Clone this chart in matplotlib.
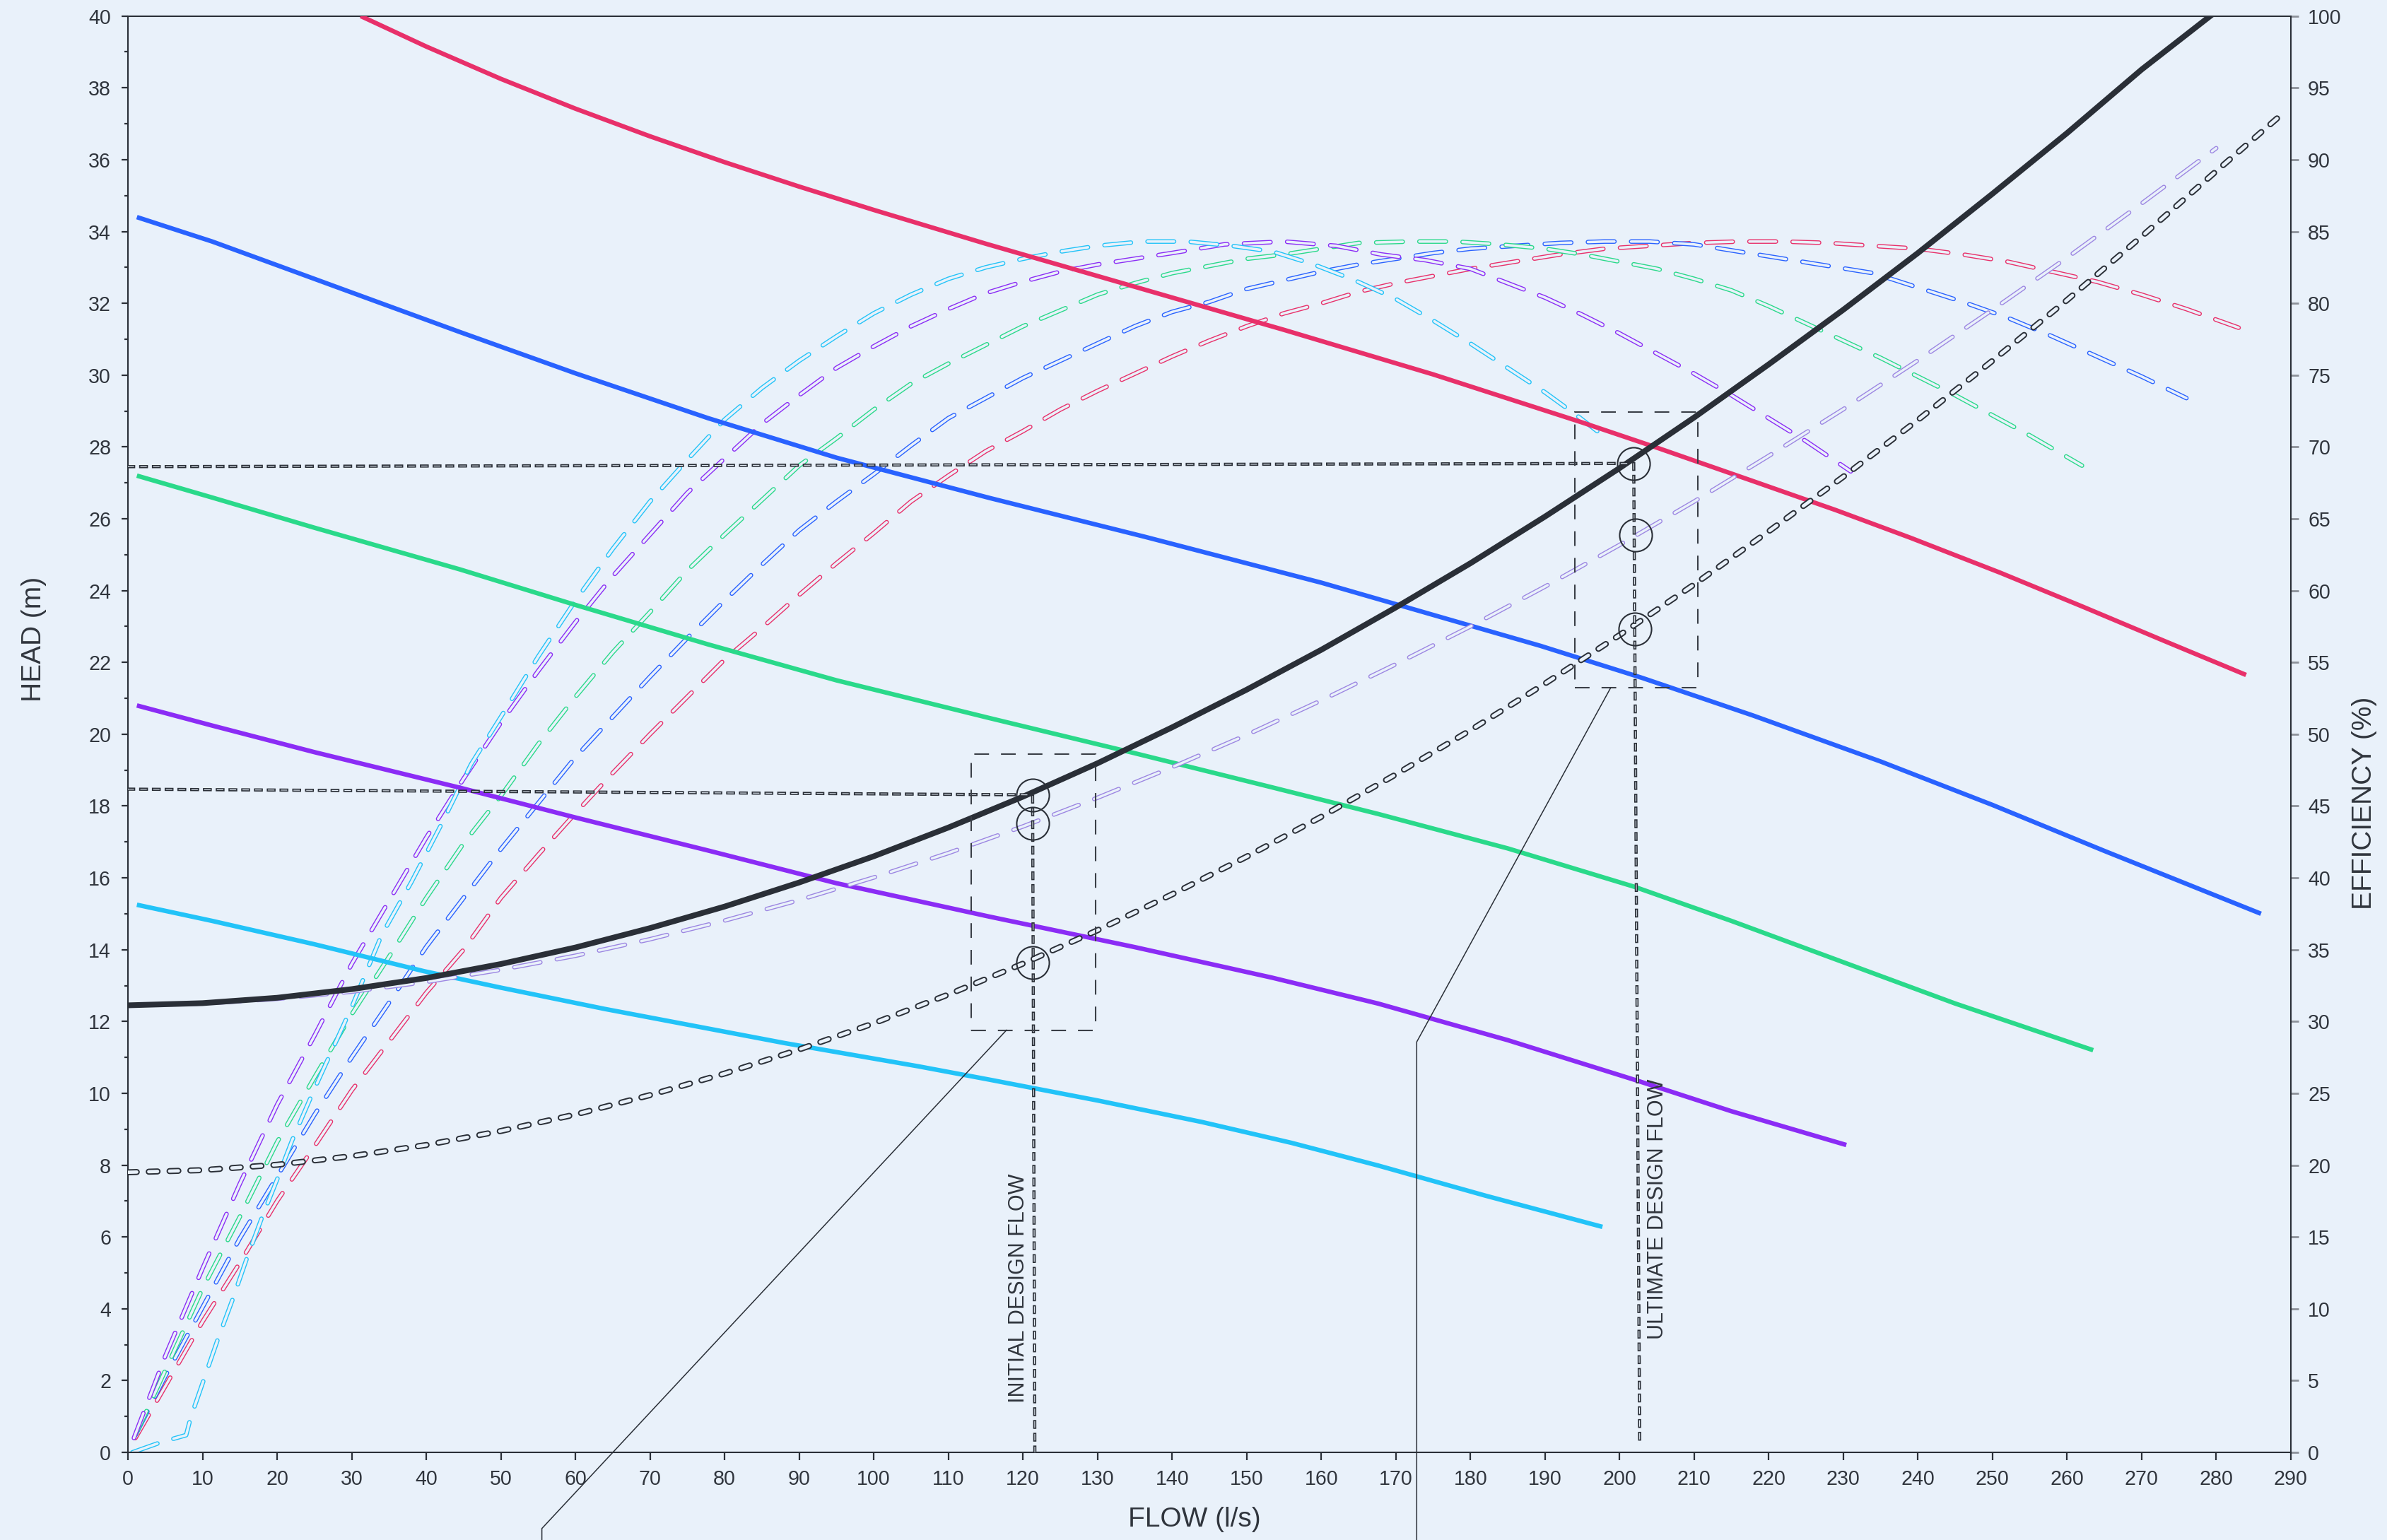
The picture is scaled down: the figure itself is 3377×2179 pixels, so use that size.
import matplotlib
matplotlib.use('Agg')
import matplotlib.pyplot as plt
import matplotlib.patheffects as pe
from matplotlib.patches import Rectangle
from matplotlib.ticker import MultipleLocator

plt.rcParams['font.family'] = ['Liberation Sans', 'DejaVu Sans']
plt.rcParams['lines.scale_dashes'] = False

BG = '#E9F1FA'
DARK = '#2A2F37'
TXT = '#30353D'
RED = '#E8306A'
BLUE = '#2962FF'
GREEN = '#2AD98A'
PURPLE = '#8B2CF5'
CYAN = '#22C3F8'
LAV = '#9C86E2'

# pump head curves (flow l/s, head m)
red_q = [31.2, 40, 50, 60, 70, 80, 90, 100, 115, 135, 155, 175, 195, 205, 218, 229, 239, 251, 262, 273, 284]
red_h = [40.0, 39.15, 38.25, 37.42, 36.65, 35.93, 35.25, 34.6, 33.66, 32.46, 31.26, 30.02, 28.68, 27.98, 27.04, 26.24, 25.47, 24.5, 23.56, 22.6, 21.65]
blue_q = [1.2, 11.3, 20, 30, 44.5, 60, 77.8, 95, 115.5, 136.3, 160, 189.4, 203, 217.9, 235, 250, 265, 286]
blue_h = [34.4, 33.72, 33.06, 32.3, 31.2, 30.05, 28.8, 27.7, 26.58, 25.5, 24.22, 22.46, 21.57, 20.52, 19.24, 18.03, 16.75, 15.0]
green_q = [1.2, 11.3, 25, 44.5, 60, 77.8, 95, 115.5, 135, 153.4, 167.6, 185, 202, 215, 230, 245, 263.5]
green_h = [27.2, 26.59, 25.75, 24.59, 23.6, 22.5, 21.5, 20.45, 19.47, 18.52, 17.78, 16.82, 15.75, 14.8, 13.65, 12.5, 11.2]
purple_q = [1.2, 11.3, 25, 44.5, 60, 77.8, 95, 115.5, 135, 153.4, 167.6, 185, 202.4, 215, 230.4]
purple_h = [20.8, 20.24, 19.5, 18.51, 17.68, 16.76, 15.85, 14.92, 14.07, 13.22, 12.5, 11.48, 10.35, 9.5, 8.56]
cyan_q = [1.2, 11.3, 25, 39.7, 49.8, 63.9, 88, 106, 115.5, 130, 144, 156, 167.6, 182, 197.7]
cyan_h = [15.25, 14.8, 14.15, 13.4, 12.95, 12.35, 11.4, 10.75, 10.38, 9.8, 9.2, 8.62, 7.99, 7.15, 6.28]

# system curves
sys_q = [0, 10, 20, 30, 40, 50, 60, 70, 80, 90, 100, 110, 120, 130, 140, 150, 160, 170, 180, 190, 200, 210, 220, 230, 240, 250, 260, 270, 279.2]
sys_h = [12.45, 12.51, 12.66, 12.90, 13.21, 13.60, 14.06, 14.60, 15.20, 15.87, 16.60, 17.40, 18.26, 19.19, 20.19, 21.24, 22.35, 23.53, 24.76, 26.06, 27.41, 28.82, 30.30, 31.82, 33.40, 35.05, 36.74, 38.51, 40.0]
lav_q = [0, 10, 20, 30, 40, 50, 60, 70, 80, 90, 100, 110, 120, 130, 140, 150, 160, 170, 180, 190, 200, 210, 220, 230, 240, 250, 260, 270, 280]
lav_h = [12.45, 12.50, 12.63, 12.83, 13.10, 13.44, 13.83, 14.29, 14.81, 15.38, 16.01, 16.69, 17.43, 18.23, 19.08, 19.98, 20.94, 21.95, 23.0, 24.11, 25.27, 26.48, 27.75, 29.05, 30.41, 31.82, 33.27, 34.78, 36.32]
low_q = [0, 10, 20, 30, 40, 50, 60, 70, 80, 90, 100, 110, 120, 130, 140, 150, 160, 170, 180, 190, 200, 210, 220, 230, 240, 250, 260, 270, 280, 289]
low_h = [7.8, 7.86, 8.01, 8.25, 8.56, 8.95, 9.41, 9.95, 10.55, 11.22, 11.95, 12.75, 13.61, 14.54, 15.54, 16.59, 17.70, 18.88, 20.11, 21.41, 22.76, 24.17, 25.65, 27.17, 28.75, 30.4, 32.09, 33.86, 35.68, 37.3]

# efficiency curves (flow l/s, %)
cyan_eq = [0.6, 4.4, 7.8, 8.4, 10, 12, 14, 16, 18, 20, 22, 25, 30, 34, 38, 42, 46, 50, 55, 60, 65, 70, 75, 80, 85, 90, 95, 100, 105, 110, 115, 120, 125, 130, 136, 142, 148, 153.5, 159, 164.5, 170, 175, 180, 185, 190, 194.5, 197]
cyan_e = [0, 0.7, 1.2, 2.4, 4.8, 7.8, 10.6, 13.6, 16.4, 19.0, 21.7, 25.3, 31.0, 36.0, 39.7, 43.7, 47.9, 51.2, 55.4, 59.3, 62.9, 66.2, 69.1, 71.9, 74.1, 76.0, 77.7, 79.3, 80.6, 81.7, 82.5, 83.1, 83.6, 84.0, 84.3, 84.3, 84.0, 83.6, 82.7, 81.6, 80.3, 78.8, 77.2, 75.5, 73.8, 72.1, 71.1]
purple_eq = [0.8, 5, 10, 15, 20, 25, 30, 35, 40, 45, 50, 55, 60, 65, 70, 75, 80, 85, 90, 95, 100, 105, 110, 115, 120, 125, 130, 135, 140, 147, 155, 162, 168, 174, 180, 185, 190, 195, 200, 205, 210, 215, 220, 225, 231]
purple_e = [1.0, 6.7, 12.8, 18.7, 24.2, 29.0, 34.0, 38.4, 42.8, 46.9, 50.8, 54.4, 57.8, 61.0, 63.9, 66.8, 69.2, 71.6, 73.6, 75.5, 77.0, 78.4, 79.6, 80.7, 81.5, 82.2, 82.7, 83.1, 83.5, 84.1, 84.3, 84.0, 83.4, 83.0, 82.4, 81.4, 80.4, 79.2, 77.9, 76.5, 75.1, 73.6, 72.0, 70.4, 68.3]
green_eq = [1, 5, 10, 15, 20, 25, 30, 35, 40, 45, 50, 55, 60, 65, 70, 75, 80, 85, 90, 95, 100, 105, 110, 115, 120, 125, 130, 135, 140, 145, 150, 155, 160, 165, 172, 178, 184, 190, 195, 200, 205, 210, 215, 220, 225, 230, 235, 240, 245, 250, 255, 262]
green_e = [1.2, 5.7, 11.4, 16.4, 21.6, 26.1, 30.5, 34.5, 38.6, 42.4, 45.7, 49.3, 52.6, 55.7, 58.5, 61.4, 63.9, 66.3, 68.7, 70.6, 72.6, 74.4, 75.8, 77.1, 78.4, 79.5, 80.6, 81.4, 82.1, 82.6, 83.1, 83.4, 83.8, 84.2, 84.3, 84.3, 84.1, 83.8, 83.4, 82.9, 82.4, 81.7, 80.9, 79.8, 78.6, 77.4, 76.2, 74.9, 73.6, 72.2, 70.8, 68.7]
blue_eq = [1, 5, 10, 15, 20, 25, 30, 35, 40, 45, 50, 55, 60, 65, 70, 75, 80, 85, 90, 95, 100, 105, 110, 115, 120, 125, 130, 135, 140, 145, 150, 155, 160, 165, 170, 175, 180, 186, 192, 198, 204, 210, 216, 222, 228, 234, 240, 246, 252, 258, 264, 270, 276]
blue_e = [1.2, 5.3, 10.1, 14.9, 19.2, 23.5, 27.5, 31.3, 35.2, 38.6, 42.0, 45.2, 48.4, 51.2, 54.0, 56.7, 59.3, 61.8, 64.2, 66.2, 68.1, 70.1, 72.0, 73.4, 74.8, 76.0, 77.2, 78.4, 79.4, 80.1, 81.0, 81.6, 82.2, 82.7, 83.1, 83.5, 83.8, 84.0, 84.2, 84.3, 84.3, 84.1, 83.6, 83.1, 82.6, 82.1, 81.1, 80.1, 79.0, 77.7, 76.3, 74.9, 73.4]
red_eq = [1, 5, 10, 15, 20, 25, 30, 35, 40, 45, 50, 55, 60, 65, 70, 75, 80, 85, 90, 95, 100, 105, 110, 115, 120, 125, 130, 135, 140, 145, 150, 155, 160, 165, 170, 175, 180, 186, 192, 198, 204, 210, 216, 222, 228, 234, 240, 246, 252, 258, 264, 270, 276, 283]
red_e = [1.0, 4.6, 9.1, 13.2, 17.5, 21.3, 25.2, 28.6, 32.0, 35.0, 38.6, 41.6, 44.5, 47.3, 50.0, 52.6, 55.2, 57.4, 59.7, 61.9, 64.0, 66.2, 68.0, 69.7, 71.1, 72.6, 73.9, 75.1, 76.3, 77.4, 78.4, 79.3, 80.0, 80.8, 81.4, 81.9, 82.4, 82.9, 83.4, 83.8, 84.0, 84.2, 84.3, 84.3, 84.2, 84.0, 83.8, 83.4, 82.9, 82.2, 81.5, 80.6, 79.6, 78.3]

# design points
init_line_q = [0, 121.3, 121.6]
init_line_h = [18.47, 18.31, 0]
ult_line_q = [0, 201.9, 202.7]
ult_line_h = [27.45, 27.54, 0.2]
init_pts_q = [121.3, 121.3, 121.3]
init_pts_h = [18.31, 17.52, 13.64]
ult_pts_q = [201.9, 202.2, 202.1]
ult_pts_h = [27.54, 25.55, 22.93]
init_box = (113.1, 11.76, 16.6, 7.68)
ult_box = (194.0, 21.29, 16.5, 7.69)
init_lead_q = [117.8, 55.5, 55.5]
init_lead_h = [11.76, -2.12, -2.7]
ult_lead_q = [198.8, 172.8, 172.8]
ult_lead_h = [21.29, 11.43, -2.7]


def hollow(axis, x, y, color, outer, inner, dashes, z, cap='round'):
    # dashed line drawn as an outline: coloured stroke with a background-coloured core
    axis.plot(x, y, color=BG, lw=inner, dashes=dashes, dash_capstyle=cap, zorder=z,
              path_effects=[pe.Stroke(linewidth=outer, foreground=color), pe.Normal()])


fig = plt.figure(figsize=(16.885, 10.895), dpi=200, facecolor=BG)
ax = fig.add_axes([0.0536, 0.0569, 0.9061, 0.9327])
ax2 = ax.twinx()
ax.set_zorder(ax2.get_zorder() + 1)
ax.patch.set_visible(False)
ax2.set_facecolor(BG)

# efficiency curves (under everything else)
eff_dash = (13.5, 8.5)
for q, e, c in [(red_eq, red_e, RED), (blue_eq, blue_e, BLUE), (green_eq, green_e, GREEN),
                (purple_eq, purple_e, PURPLE), (cyan_eq, cyan_e, CYAN)]:
    hollow(ax2, q, e, c, 2.3, 1.3, eff_dash, 2)

# pump curves
for q, h, c in [(red_q, red_h, RED), (blue_q, blue_h, BLUE), (green_q, green_h, GREEN),
                (purple_q, purple_h, PURPLE), (cyan_q, cyan_h, CYAN)]:
    ax.plot(q, h, color=c, lw=2.3, zorder=3, solid_capstyle='butt', solid_joinstyle='round')

# system curves
hollow(ax, lav_q, lav_h, LAV, 2.25, 1.25, eff_dash, 4)
hollow(ax, low_q, low_h, DARK, 3.1, 1.7, (4.5, 6.1), 4)
ax.plot(sys_q, sys_h, color=DARK, lw=2.9, zorder=5, solid_joinstyle='round')

# design flow markers
hollow(ax, init_line_q, init_line_h, DARK, 1.6, 0.4, (2.9, 3.6), 6, cap='projecting')
hollow(ax, ult_line_q, ult_line_h, DARK, 1.6, 0.4, (2.9, 3.6), 6, cap='projecting')
ax.plot(init_pts_q, init_pts_h, 'o', mfc='none', mec=DARK, ms=16.6, mew=0.75, zorder=7)
ax.plot(ult_pts_q, ult_pts_h, 'o', mfc='none', mec=DARK, ms=16.6, mew=0.75, zorder=7)
for b in (init_box, ult_box):
    ax.add_patch(Rectangle(b[:2], b[2], b[3], fill=False, ec='#3A3F47', lw=0.75,
                           ls=(0, (7.5, 6.1)), zorder=6))
ax.plot(init_lead_q, init_lead_h, color=DARK, lw=0.55, zorder=6, clip_on=False)
ax.plot(ult_lead_q, ult_lead_h, color=DARK, lw=0.55, zorder=6, clip_on=False)
ax.text(119.4, 1.38, 'INITIAL DESIGN FLOW', rotation=90, ha='center', va='bottom',
        fontsize=11, color=TXT, zorder=8)
ax.text(205.1, 3.15, 'ULTIMATE DESIGN FLOW', rotation=90, ha='center', va='bottom',
        fontsize=11, color=TXT, zorder=8)

# axes
ax.set_xlim(0, 290)
ax.set_ylim(0, 40)
ax2.set_ylim(0, 100)
ax.xaxis.set_major_locator(MultipleLocator(10))
ax.yaxis.set_major_locator(MultipleLocator(2))
ax.yaxis.set_minor_locator(MultipleLocator(1))
ax2.yaxis.set_major_locator(MultipleLocator(5))

for s in ['left', 'bottom', 'top']:
    ax.spines[s].set_color(DARK)
    ax.spines[s].set_linewidth(0.75)
ax.spines['right'].set_visible(False)
for s in ['left', 'bottom', 'top']:
    ax2.spines[s].set_visible(False)
ax2.spines['right'].set_color(DARK)
ax2.spines['right'].set_linewidth(0.75)

ax.tick_params(axis='x', length=4, width=0.8, color=DARK, pad=4.5, labelsize=10.3, labelcolor=TXT)
ax.tick_params(axis='y', which='major', length=3.2, width=0.8, color=DARK, pad=5.4,
               labelsize=10.3, labelcolor=TXT)
ax.tick_params(axis='y', which='minor', length=1.8, width=0.8, color=DARK)
ax2.tick_params(axis='y', length=4, width=1.0, color='#8C9199', pad=4.7, labelsize=10.3,
                labelcolor=TXT)

ax.set_xlabel('FLOW (l/s)', fontsize=14, color=TXT)
ax.xaxis.set_label_coords(0.493, -0.0467)
ax.xaxis.label.set_va('center')
ax.set_ylabel('HEAD (m)', fontsize=14, color=TXT)
ax.yaxis.set_label_coords(-0.0435, 0.566)
ax.yaxis.label.set_va('center')
ax2.set_ylabel('EFFICIENCY (%)', fontsize=14, color=TXT, rotation=90)
ax2.yaxis.set_label_coords(1.034, 0.452)
ax2.yaxis.label.set_va('center')

fig.savefig('out.png', dpi=200, facecolor=BG)
